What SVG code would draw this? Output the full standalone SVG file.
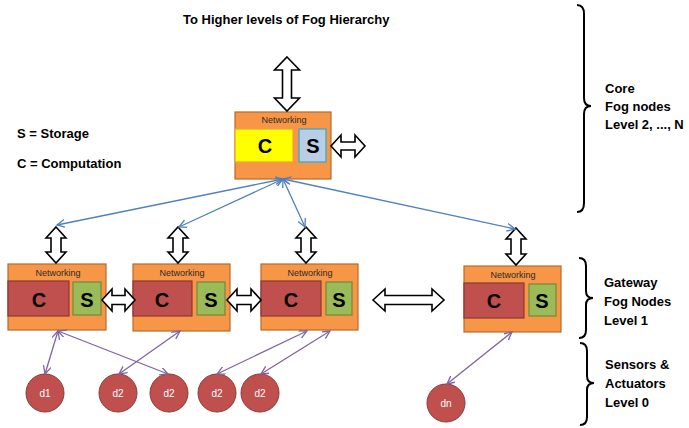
<svg xmlns="http://www.w3.org/2000/svg" width="689" height="428" viewBox="0 0 689 428">
<style>
text{font-family:"Liberation Sans",Arial,sans-serif}
.node{fill:#f79646;stroke:#b9692a;stroke-width:1.2}
.cr{fill:#c0504d;stroke:#8c3836;stroke-width:1.2}
.sg{fill:#9bbb59;stroke:#71893f;stroke-width:1.2}
.cy{fill:#ffff00;stroke:#f0a040;stroke-width:1.2}
.sb{fill:#b9cde5;stroke:#4bacc6;stroke-width:1.5}
.net{font-size:9px;fill:#2a2a2a;text-anchor:middle}
.big{font-size:20px;font-weight:bold;fill:#000;text-anchor:middle}
.dev{fill:#c0504d;stroke:#8c3836;stroke-width:1}
.dt{font-size:10px;fill:#fff;text-anchor:middle}
.lbl{font-size:13px;font-weight:bold;fill:#000}
.dbl{fill:#fff;stroke:#000;stroke-width:1.6;stroke-linejoin:miter}
.brace{fill:none;stroke:#000;stroke-width:2}
.bl{stroke:#4f81bd;stroke-width:1.3;fill:none;marker-start:url(#ab);marker-end:url(#ab)}
.pl{stroke:#8064a2;stroke-width:1.3;fill:none;marker-start:url(#ap);marker-end:url(#ap)}
</style>
<defs>
<marker id="ab" markerWidth="10" markerHeight="10" refX="8" refY="4" orient="auto-start-reverse" markerUnits="userSpaceOnUse"><path d="M0,0 L8,4 L0,8" fill="none" stroke="#4f81bd" stroke-width="1.3"/></marker>
<marker id="ap" markerWidth="10" markerHeight="10" refX="8" refY="4" orient="auto-start-reverse" markerUnits="userSpaceOnUse"><path d="M0,0 L8,4 L0,8" fill="none" stroke="#8064a2" stroke-width="1.3"/></marker>
</defs>

<text class="lbl" x="183" y="24" font-size="13.5">To Higher levels of Fog Hierarchy</text>
<text class="lbl" x="17" y="138">S = Storage</text>
<text class="lbl" x="17" y="168">C = Computation</text>

<g id="core">
<rect class="node" x="235" y="112" width="96" height="67"/>
<text class="net" x="284" y="123">Networking</text>
<rect class="cy" x="235" y="129" width="58" height="33"/>
<rect class="sb" x="299" y="129" width="27" height="33"/>
<text class="big" x="265" y="153">C</text>
<text class="big" x="313" y="153">S</text>
</g>

<g id="gw1">
<rect class="node" x="8" y="264" width="98" height="66"/>
<text class="net" x="58" y="276">Networking</text>
<rect class="cr" x="8" y="281" width="61" height="35"/>
<rect class="sg" x="73" y="282" width="28" height="33"/>
<text class="big" x="39" y="307">C</text>
<text class="big" x="87" y="307">S</text>
</g>
<g id="gw2">
<rect class="node" x="133" y="264" width="97" height="67"/>
<text class="net" x="182" y="276">Networking</text>
<rect class="cr" x="133" y="281" width="59" height="35"/>
<rect class="sg" x="197" y="282" width="28" height="33"/>
<text class="big" x="162" y="307">C</text>
<text class="big" x="211" y="307">S</text>
</g>
<g id="gw3">
<rect class="node" x="261" y="264" width="97" height="66"/>
<text class="net" x="310" y="276">Networking</text>
<rect class="cr" x="261" y="281" width="60" height="35"/>
<rect class="sg" x="326" y="282" width="26" height="33"/>
<text class="big" x="291" y="307">C</text>
<text class="big" x="339" y="307">S</text>
</g>
<g id="gw4">
<rect class="node" x="464" y="266" width="97" height="66"/>
<text class="net" x="513" y="278">Networking</text>
<rect class="cr" x="464" y="283" width="60" height="35"/>
<rect class="sg" x="529" y="284" width="27" height="32"/>
<text class="big" x="494" y="308">C</text>
<text class="big" x="542" y="308">S</text>
</g>

<g id="d1"><circle class="dev" cx="45" cy="393" r="19"/><text class="dt" x="45" y="397">d1</text></g>
<g id="d2a"><circle class="dev" cx="118" cy="393" r="19"/><text class="dt" x="118" y="397">d2</text></g>
<g id="d2b"><circle class="dev" cx="169" cy="393" r="19"/><text class="dt" x="169" y="397">d2</text></g>
<g id="d2c"><circle class="dev" cx="217" cy="393" r="19"/><text class="dt" x="217" y="397">d2</text></g>
<g id="d2d"><circle class="dev" cx="260" cy="393" r="19"/><text class="dt" x="260" y="397">d2</text></g>
<g id="dn"><circle class="dev" cx="446" cy="403" r="19"/><text class="dt" x="446" y="407">dn</text></g>

<g id="connectors">
<path class="dbl" d="M287,57 L299.5,70 L291.5,70 L291.5,98 L299.5,98 L287,111 L274.5,98 L282.5,98 L282.5,70 L274.5,70 Z"/>
<path class="dbl" d="M331,146 L341,135 L341,142 L355,142 L355,135 L365,146 L355,157 L355,150 L341,150 L341,157 Z"/>
<path class="dbl" d="M56,227 L66,238 L61,238 L61,252 L66,252 L56,263 L46,252 L51,252 L51,238 L46,238 Z"/>
<path class="dbl" d="M178,227 L188,238 L183,238 L183,252 L188,252 L178,263 L168,252 L173,252 L173,238 L168,238 Z"/>
<path class="dbl" d="M306,227 L316,238 L311,238 L311,252 L316,252 L306,263 L296,252 L301,252 L301,238 L296,238 Z"/>
<path class="dbl" d="M516,228 L526,239 L521,239 L521,254 L526,254 L516,265 L506,254 L511,254 L511,239 L506,239 Z"/>
<path class="dbl" d="M102,300 L112,289 L112,295.5 L125,295.5 L125,289 L135,300 L125,311 L125,304.5 L112,304.5 L112,311 Z"/>
<path class="dbl" d="M227,300 L237,289 L237,295.5 L251,295.5 L251,289 L261,300 L251,311 L251,304.5 L237,304.5 L237,311 Z"/>
<path class="dbl" d="M373,300 L385,289 L385,295.5 L432,295.5 L432,289 L444,300 L432,311 L432,304.5 L385,304.5 L385,311 Z"/>
<line class="bl" x1="283" y1="179" x2="57" y2="225"/>
<line class="bl" x1="283" y1="179" x2="179" y2="227"/>
<line class="bl" x1="283" y1="179" x2="305" y2="227"/>
<line class="bl" x1="283" y1="179" x2="515" y2="229"/>
<line class="pl" x1="58" y1="331" x2="45" y2="374"/>
<line class="pl" x1="58" y1="331" x2="168" y2="374"/>
<line class="pl" x1="180" y1="331" x2="119" y2="374"/>
<line class="pl" x1="307" y1="331" x2="217" y2="374"/>
<line class="pl" x1="330" y1="331" x2="261" y2="374"/>
<line class="pl" x1="512" y1="332" x2="447" y2="384"/>
</g>

<path class="brace" d="M577,5 Q584,5 584,14 L584,98 Q584,106 591,106 Q584,106 584,114 L584,203 Q584,212 577,212"/>
<path class="brace" d="M579,258 Q586,258 586,266 L586,291 Q586,298 593,298 Q586,298 586,305 L586,330 Q586,338 579,338"/>
<path class="brace" d="M580,343 Q587,343 587,351 L587,376 Q587,383 594,383 Q587,383 587,390 L587,417 Q587,425 580,425"/>

<text class="lbl" x="605" y="93">Core</text>
<text class="lbl" x="605" y="111">Fog nodes</text>
<text class="lbl" x="605" y="129" font-size="12.8">Level 2, ..., N</text>
<text class="lbl" x="604" y="287">Gateway</text>
<text class="lbl" x="604" y="306">Fog Nodes</text>
<text class="lbl" x="604" y="325">Level 1</text>
<text class="lbl" x="605" y="369">Sensors &amp;</text>
<text class="lbl" x="605" y="388">Actuators</text>
<text class="lbl" x="605" y="407">Level 0</text>
</svg>
